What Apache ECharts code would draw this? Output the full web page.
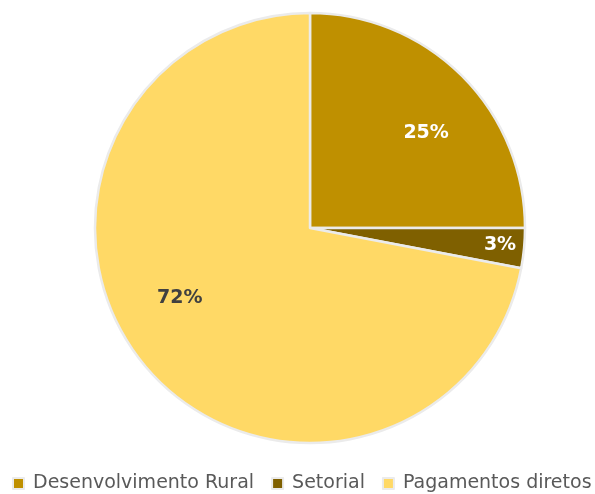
<!DOCTYPE html>
<html><head><meta charset="utf-8">
<script src="https://cdn.jsdelivr.net/npm/echarts@6/dist/echarts.min.js"></script>
<style>html,body{margin:0;padding:0;background:#fff}#c{width:595px;height:494px}</style>
</head><body><div id="c"></div>
<script>
const categories = ['Desenvolvimento Rural', 'Setorial', 'Pagamentos diretos'];
const values = [25, 3, 72];
const colors = ['#BF9000', '#7F6000', '#FFD966'];
const labelColors = ['#FFFFFF', '#FFFFFF', '#404040'];
const labelShift = [[38, -17], [80, 7], [-45, 0]];

const chart = echarts.init(document.getElementById('c'), null, {renderer: 'canvas'});
chart.setOption({
  animation: false,
  legend: {
    top: 474, left: 12, padding: 0, width: 595,
    itemWidth: 11, itemHeight: 11, itemGap: 17,
    icon: 'rect',
    textStyle: {fontFamily: 'DejaVu Sans', fontSize: 19, color: '#595959', padding: [0, 0, 0, 4]},
    data: categories
  },
  series: [{
    type: 'pie',
    center: [310, 228],
    radius: [0, 215],
    startAngle: 90,
    clockwise: true,
    itemStyle: {borderColor: '#EBEBEB', borderWidth: 2.5},
    label: {
      show: true, position: 'inside',
      formatter: p => p.value + '%',
      fontFamily: 'DejaVu Sans', fontWeight: 'bold', fontSize: 19
    },
    labelLayout: p => ({dx: labelShift[p.dataIndex][0], dy: labelShift[p.dataIndex][1]}),
    emphasis: {disabled: true},
    data: categories.map((n, i) => ({
      name: n, value: values[i],
      itemStyle: {color: colors[i]},
      label: {color: labelColors[i]}
    }))
  }]
});
</script></body></html>
